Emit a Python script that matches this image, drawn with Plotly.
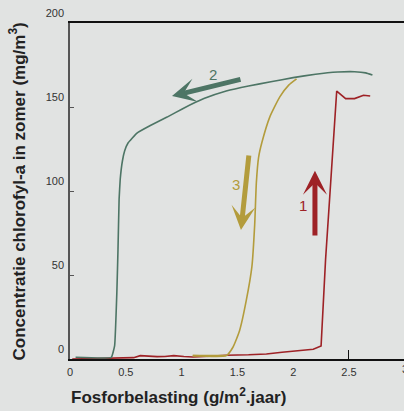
import plotly.graph_objects as go

# Curve 2 (green): descending phosphorus load, lake stays turbid until low load
green_x = [0.05, 0.37, 0.40, 0.42, 0.43, 0.44, 0.45, 0.47, 0.49, 0.52, 0.60, 0.72, 0.87, 1.01,
           1.20, 1.40, 1.60, 1.80, 2.00, 2.20, 2.40, 2.55, 2.65, 2.71]
green_y = [1, 1, 8, 40, 65, 95, 107, 118, 124, 128.6, 134.5, 139, 144, 149,
           155, 159.5, 162.5, 165, 167.5, 169.5, 170.8, 171, 170.3, 169]

# Curve 3 (ochre)
ochre_x = [1.10, 1.40, 1.46, 1.52, 1.58, 1.63, 1.655, 1.67, 1.69, 1.72, 1.79, 1.88, 1.96, 2.03]
ochre_y = [2, 2, 7, 17, 35, 55, 80, 105, 120, 129, 144, 156, 163, 166.7]

# Curve 1 (red): ascending phosphorus load
red_x = [0.02, 0.30, 0.45, 0.57, 0.63, 0.70, 0.78, 0.85, 0.93, 1.02, 1.10, 1.25, 1.40, 1.60,
         1.76, 1.90, 2.06, 2.18, 2.25, 2.29, 2.33, 2.36, 2.39, 2.47, 2.55, 2.63, 2.69]
red_y = [0, 0.2, 0.5, 0.8, 2.0, 1.6, 1.4, 1.5, 2.0, 1.5, 1.2, 1.6, 2.2, 2.5,
         3, 4, 5, 5.8, 7.7, 59, 99, 128.6, 159.5, 155, 155, 157, 156.5]

x_tickvals = [0, 0.5, 1, 1.5, 2, 2.5]
x_ticktext = ["0", "0.5", "1", "1.5", "2", "2.5"]
y_tickvals = [0, 50, 100, 150, 200]

# Arrow annotations: label, colour, tip (x, y), tail (x, y), label pos
arrow_labels = ["2", "3", "1"]
arrow_colors = ["#4d7565", "#b39c3c", "#9e2226"]
arrow_tip = [(0.914, 156.5), (1.532, 76.8), (2.195, 112)]
arrow_tail = [(1.541, 166.7), (1.604, 122), (2.195, 72.6)]
label_pos = [(1.285, 169.5), (1.49, 104), (2.09, 91.5)]

BG = "#e1e3e2"
GREEN, OCHRE, RED = arrow_colors[0], arrow_colors[1], arrow_colors[2]
XMAX = 2.993
TITLE_FONT = dict(size=17, color="#222222", family="Liberation Sans")

fig = go.Figure()
fig.add_trace(go.Scatter(x=red_x, y=red_y, mode="lines",
                         line=dict(color=RED, width=1.6), hoverinfo="skip"))
fig.add_trace(go.Scatter(x=ochre_x, y=ochre_y, mode="lines",
                         line=dict(color=OCHRE, width=1.6, shape="spline", smoothing=0.5),
                         hoverinfo="skip"))
fig.add_trace(go.Scatter(x=ochre_x[:2], y=ochre_y[:2], mode="lines",
                         line=dict(color=OCHRE, width=1.6), hoverinfo="skip"))
fig.add_trace(go.Scatter(x=green_x, y=green_y, mode="lines",
                         line=dict(color=GREEN, width=1.6, shape="spline", smoothing=0.3),
                         hoverinfo="skip"))

for lab, col, tip, tail, lp in zip(arrow_labels, arrow_colors, arrow_tip, arrow_tail, label_pos):
    fig.add_annotation(x=tip[0], y=tip[1], ax=tail[0], ay=tail[1],
                       xref="x", yref="y", axref="x", ayref="y",
                       text="", showarrow=True, arrowhead=3, arrowsize=0.8,
                       arrowwidth=5, arrowcolor=col)
    fig.add_annotation(x=lp[0], y=lp[1], xref="x", yref="y", text=lab,
                       showarrow=False, font=dict(size=15, color=col,
                                                  family="Liberation Sans"))

# x tick label "3" cut off at the right edge
fig.add_annotation(x=3.0 / XMAX, y=0, xref="paper", yref="paper", yanchor="top",
                   xanchor="center", yshift=-2, text="3", showarrow=False,
                   font=dict(size=11, color="#333333", family="Liberation Sans"))

# x-axis title (left-shifted like the reference)
fig.add_annotation(x=(178.5 - 70) / 334, y=0, xref="paper", yref="paper",
                   xanchor="center", yanchor="middle", yshift=-37,
                   text="<b>Fosforbelasting (g/m<sup>2</sup>.jaar)</b>", showarrow=False,
                   font=TITLE_FONT)

# y-axis title
fig.add_annotation(x=(17.5 - 70) / 334, y=(359 - 192) / 336, xref="paper", yref="paper",
                   xanchor="center", yanchor="middle", textangle=-90,
                   text="<b>Concentratie chlorofyl-a in zomer (mg/m<sup>3</sup>)</b>",
                   showarrow=False, font=TITLE_FONT)

fig.update_layout(
    width=404, height=411,
    margin=dict(l=70, r=0, t=23, b=52),
    paper_bgcolor=BG, plot_bgcolor=BG,
    showlegend=False,
    font=dict(family="Liberation Sans", color="#333333", size=11),
    xaxis=dict(range=[0, XMAX], tickvals=x_tickvals, ticktext=x_ticktext,
               showgrid=False, zeroline=False, showline=True, linecolor="#111111",
               linewidth=1.5, mirror=True, ticks="", ticklabelstandoff=2,
               minor=dict(tickvals=[2.5], ticks="inside", ticklen=9,
                          tickcolor="#111111", tickwidth=1.2),
               tickfont=dict(size=11, color="#333333")),
    yaxis=dict(range=[0, 200], tickvals=y_tickvals, showgrid=False, zeroline=False,
               showline=True, linecolor="#555555", linewidth=1.5,
               ticks="inside", ticklen=4, tickcolor="#555555", tickwidth=1.2,
               ticklabelshift=-10, ticklabelstandoff=2,
               tickfont=dict(size=11, color="#333333")),
)

fig.write_html("out.html", config={"displayModeBar": False},
               post_script="document.body.style.margin='0';"
                           "document.body.style.background='#e1e3e2';"
                           "document.documentElement.style.overflow='hidden';")
